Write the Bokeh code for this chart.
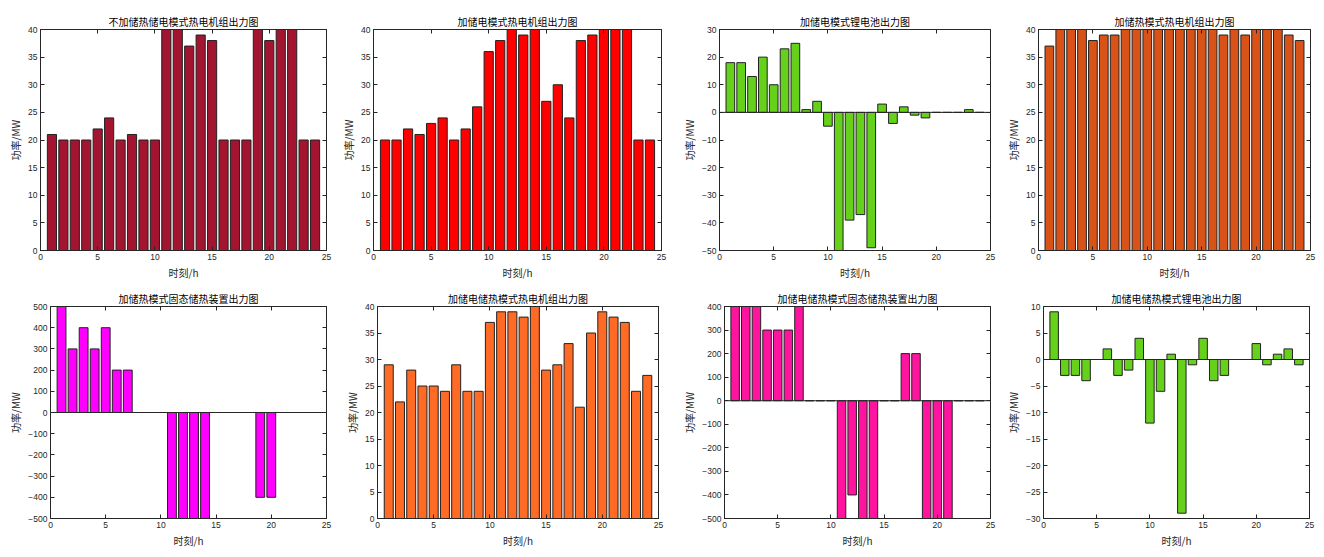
from bokeh.plotting import figure
from bokeh.layouts import row, column
from bokeh.models import Range1d, FixedTicker, LinearAxis, Span
from bokeh.embed import file_html
from bokeh.resources import INLINE

# ---------------- data ----------------
hours = list(range(1, 25))

titles = [
    "不加储热储电模式热电机组出力图",
    "加储电模式热电机组出力图",
    "加储电模式锂电池出力图",
    "加储热模式热电机组出力图",
    "加储热模式固态储热装置出力图",
    "加储电储热模式热电机组出力图",
    "加储电储热模式固态储热装置出力图",
    "加储电储热模式锂电池出力图",
]

chp_no_storage = [21, 20, 20, 20, 22, 24, 20, 21, 20, 20, 40, 40, 37, 39, 38, 20, 20, 20, 40, 38, 40, 40, 20, 20]
chp_elec = [20, 20, 22, 21, 23, 24, 20, 22, 26, 36, 38, 40, 39, 40, 27, 30, 24, 38, 39, 40, 40, 40, 20, 20]
battery_elec = [18, 18, 13, 20, 10, 23, 25, 1, 4, -5, -50, -39, -37, -49, 3, -4, 2, -1, -2, 0, 0, 0, 1, 0]
chp_heat = [37, 40, 40, 40, 38, 39, 39, 40, 40, 40, 40, 40, 40, 40, 40, 40, 39, 40, 39, 40, 40, 40, 39, 38]
heat_store_heat = [500, 300, 400, 300, 400, 200, 200, 0, 0, 0, -500, -500, -500, -500, 0, 0, 0, 0, -400, -400, 0, 0, 0, 0]
chp_both = [29, 22, 28, 25, 25, 24, 29, 24, 24, 37, 39, 39, 38, 40, 28, 29, 33, 21, 35, 39, 38, 37, 24, 27]
heat_store_both = [400, 400, 400, 300, 300, 300, 400, 0, 0, 0, -500, -400, -500, -500, 0, 0, 200, 200, -500, -500, -500, 0, 0, 0]
battery_both = [9, -3, -3, -4, 0, 2, -3, -2, 4, -12, -6, 1, -29, -1, 4, -4, -3, 0, 0, 3, -1, 1, 2, -1]

series = [chp_no_storage, chp_elec, battery_elec, chp_heat,
          heat_store_heat, chp_both, heat_store_both, battery_both]

y_limits = [(0, 40), (0, 40), (-50, 30), (0, 40), (-500, 500), (0, 40), (-500, 400), (-30, 10)]
y_steps = [5, 5, 10, 5, 100, 5, 100, 5]
x_ticks = [0, 5, 10, 15, 20, 25]

# ---------------- styles / layout ----------------
colors = ["#A2142F", "#FF0000", "#66D11A", "#D95319",
          "#FF00FF", "#FF6A25", "#FF14A0", "#66D11A"]
baseline = [False, False, True, False, True, False, True, True]

# (width, height, left, right, top, bottom) borders in px
geom = [
    (338, 285, 40, 12, 25, 32),
    (341, 285, 35, 18, 25, 32),
    (324, 285, 31, 13, 29, 35),
    (319, 285, 29, 12, 29, 33),
    (338, 271, 50, 12, 19, 33),
    (341, 271, 39, 21, 18, 31),
    (324, 271, 37, 13, 21, 33),
    (319, 271, 40, 13, 20, 38),
]

AX = "#262626"
CJK = "Noto Sans CJK SC"
NUM = "Liberation Sans"


def style_axis(ax, show_labels):
    ax.axis_line_color = AX
    ax.axis_line_width = 1
    ax.major_tick_line_color = AX
    ax.major_tick_in = 4
    ax.major_tick_out = 0
    ax.minor_tick_in = 0
    ax.minor_tick_out = 0
    ax.minor_tick_line_color = None
    if show_labels:
        ax.major_label_text_font = NUM
        ax.major_label_text_font_size = "8.5px"
        ax.major_label_text_color = AX
        ax.major_label_standoff = 3
        ax.axis_label_text_font = CJK
        ax.axis_label_text_font_size = "10px"
        ax.axis_label_text_font_style = "normal"
        ax.axis_label_text_color = AX
        ax.axis_label_standoff = 2
    else:
        ax.major_label_text_font_size = "1px"
        ax.major_label_text_color = None
        ax.major_label_standoff = 0


def make(i):
    w, h, bl, br, bt, bb = geom[i]
    y0, y1 = y_limits[i]
    yt = list(range(y0, y1 + 1, y_steps[i]))
    p = figure(width=w, height=h, x_range=Range1d(0, 25), y_range=Range1d(y0, y1),
               output_backend="svg", toolbar_location=None,
               min_border_left=bl, min_border_right=br,
               min_border_top=bt, min_border_bottom=bb)
    p.title.text = titles[i]
    p.title.align = "center"
    p.title.text_font = CJK
    p.title.text_font_size = "10px"
    p.title.text_font_style = "normal"
    p.title.text_color = "#000000"
    p.title.standoff = 2
    p.grid.visible = False
    p.outline_line_color = AX
    p.background_fill_color = "white"
    p.border_fill_color = "white"

    p.vbar(x=hours, top=series[i], bottom=0, width=0.8,
           fill_color=colors[i], line_color="#222222", line_width=1)
    if baseline[i]:
        p.add_layout(Span(location=0, dimension="width", line_color=AX, line_width=1))

    p.xaxis.ticker = FixedTicker(ticks=x_ticks)
    p.yaxis.ticker = FixedTicker(ticks=yt)
    p.xaxis.axis_label = "时刻/h"
    p.yaxis.axis_label = "功率/MW"
    style_axis(p.xaxis[0], True)
    style_axis(p.yaxis[0], True)

    top = LinearAxis(ticker=FixedTicker(ticks=x_ticks))
    style_axis(top, False)
    p.add_layout(top, "above")
    right = LinearAxis(ticker=FixedTicker(ticks=yt))
    style_axis(right, False)
    p.add_layout(right, "right")
    return p


figs = [make(i) for i in range(8)]
layout = column(row(*figs[:4]), row(*figs[4:]))

open("out.html", "w").write(file_html(layout, INLINE, title="chart"))
